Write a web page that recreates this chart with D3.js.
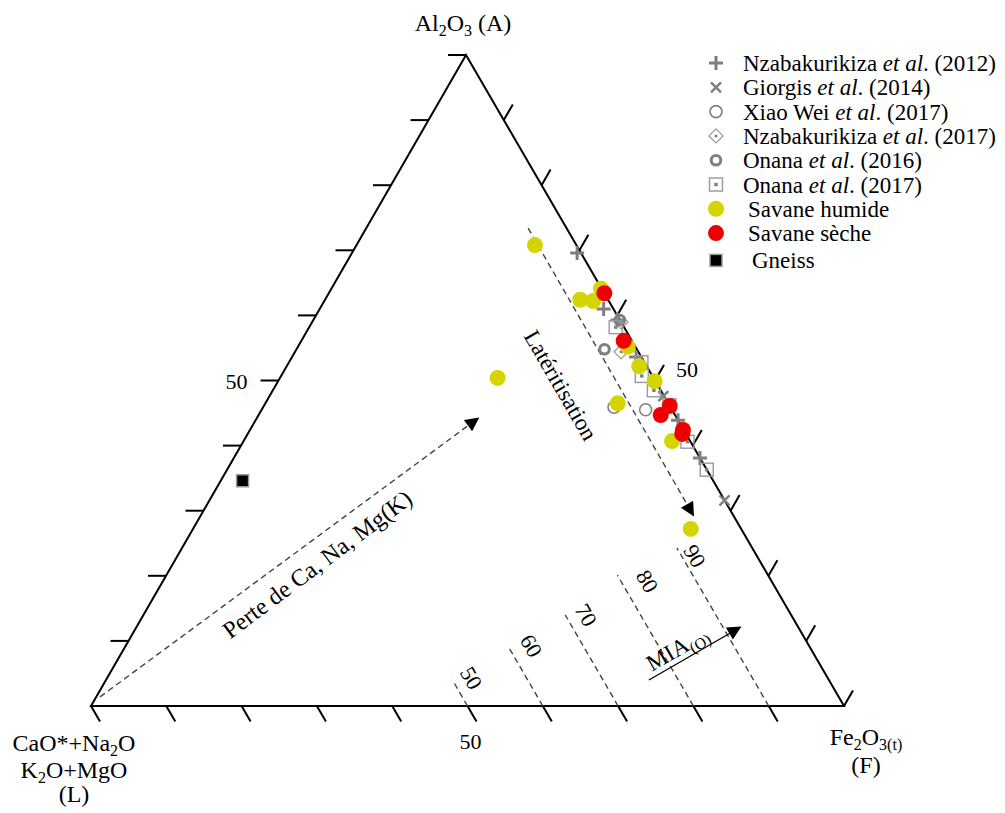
<!DOCTYPE html>
<html><head><meta charset="utf-8">
<script src="https://cdn.jsdelivr.net/npm/d3@7"></script>
<style>
body{margin:0;background:#fff}
svg{display:block}
text{font-family:"Liberation Serif","Times New Roman",serif;fill:#000}
</style>
</head><body>
<svg id="chart" width="1005" height="813"></svg>
<script>
// ---- Data: each point is [A (Al2O3), L (CaO*+Na2O+K2O+MgO), F (Fe2O3t)] in % ----
const nzabakurikiza2012 = [[69.6,0.5,29.9],[61.0,1.3,37.7],[59.3,0.3,40.4],[53.6,0.7,45.7],[43.9,0,56.1],[38.1,0,61.9]];
const giorgis2014 = [[47.6,0.1,52.3],[31.6,0,68.4]];
const xiaoWei2017 = [[45.9,7.5,46.6],[45.5,3.5,51.0]];
const nzabakurikiza2017 = [[54.4,2.3,43.3],[59.0,0,41.0]];
const onana2016 = [[59.3,0,40.7],[54.8,4.3,40.9]];
const onana2017 = [[58.2,1.1,40.7],[52.8,0.4,46.8],[50.7,1.4,47.9],[48.5,0.9,50.6],[46.2,0,53.8],[40.6,0.4,59.0],[36.3,0,63.7]];
const savaneHumide = [[70.8,5.5,23.7],[64.1,0.1,35.8],[62.4,3.7,33.9],[62.2,2.1,35.7],[55.2,1.0,43.8],[52.2,1.0,46.8],[49.9,0.1,50.0],[46.5,6.7,46.8],[40.7,2.4,56.9],[27.2,6.7,66.1],[50.4,20.7,28.9]];
const savaneSeche = [[63.4,0,36.6],[56.1,1.1,42.8],[46.1,0,53.9],[44.7,1.9,53.4],[42.4,0.1,57.5],[41.8,0.5,57.7]];
const gneiss = [[34.6,62.5,2.9]];

const tickValues = d3.range(0, 100, 10);
const tickLabelValue = 50;
const miaValues = [50, 60, 70, 80, 90];
const miaTopA = [4.0, 9.1, 14.0, 20.1, 24.3];

const legendLabels = [
  ["Nzabakurikiza ", "et al", ". (2012)"],
  ["Giorgis ", "et al", ". (2014)"],
  ["Xiao Wei ", "et al", ". (2017)"],
  ["Nzabakurikiza ", "et al", ". (2017)"],
  ["Onana ", "et al", ". (2016)"],
  ["Onana ", "et al", ". (2017)"],
  ["Savane humide", "", ""],
  ["Savane sèche", "", ""],
  ["Gneiss", "", ""]
];

// ---- Geometry ----
const svg = d3.select("#chart");
const base = {xL: 91, xF: 844, yBase: 706, yTop: 55};
const yA = d3.scaleLinear().domain([0, 100]).range([base.yBase, base.yTop]);
const xF = d3.scaleLinear().domain([0, 100]).range([0, base.xF - base.xL]);
const xA = d3.scaleLinear().domain([0, 100]).range([0, 375]);
function proj(p) {
  const s = p[0] + p[1] + p[2];
  const a = p[0] / s * 100, f = p[2] / s * 100;
  return [base.xL + xF(f) + xA(a), yA(a)];
}
const PA = proj([100,0,0]), PL = proj([0,100,0]), PF = proj([0,0,100]);

const g = svg.append("g");

// triangle
g.append("path")
  .attr("d", d3.line()([PA, PL, PF, PA]) + "Z")
  .attr("fill", "none").attr("stroke", "#000").attr("stroke-width", 2).attr("stroke-linejoin", "miter");

// ticks
const tl = 18, c60 = Math.cos(Math.PI/3), s60 = Math.sin(Math.PI/3);
tickValues.forEach(v => {
  const pb = proj([0, 100 - v, v]);
  g.append("line").attr("x1", pb[0]).attr("y1", pb[1]).attr("x2", pb[0] + tl*c60).attr("y2", pb[1] + tl*s60)
    .attr("stroke", "#000").attr("stroke-width", 2);
  const pr = proj([v, 0, 100 - v]);
  g.append("line").attr("x1", pr[0]).attr("y1", pr[1]).attr("x2", pr[0] + tl*c60).attr("y2", pr[1] - tl*s60)
    .attr("stroke", "#000").attr("stroke-width", 2);
  const pl = proj([100 - v, v, 0]);
  g.append("line").attr("x1", pl[0]).attr("y1", pl[1]).attr("x2", pl[0] - tl).attr("y2", pl[1])
    .attr("stroke", "#000").attr("stroke-width", 2);
});

// "50" tick labels
{
  const v = tickLabelValue;
  const pb = proj([0, 100 - v, v]);
  g.append("text").attr("x", pb[0] + 3).attr("y", pb[1] + 43).attr("text-anchor", "middle").attr("font-size", 22).text(v);
  const pr = proj([v, 0, 100 - v]);
  g.append("text").attr("x", pr[0] + 32).attr("y", pr[1] - 4).attr("text-anchor", "middle").attr("font-size", 22).text(v);
  const pl = proj([v, 100 - v, 0]);
  g.append("text").attr("x", pl[0] - 42).attr("y", pl[1] + 8).attr("text-anchor", "middle").attr("font-size", 22).text(v);
}

// arrowhead marker
const defs = svg.append("defs");
defs.append("marker").attr("id", "ah").attr("viewBox", "0 0 10 10").attr("refX", 9).attr("refY", 5)
  .attr("markerWidth", 16).attr("markerHeight", 14).attr("markerUnits", "userSpaceOnUse").attr("orient", "auto")
  .append("path").attr("d", "M0,0 L10,5 L0,10 Z").attr("fill", "#000");

// MIA isolines (constant L, rising from the base)
const miaLabelOffset = [[19,-2],[23,-1],[21,0],[30,6],[18,8]];
miaValues.forEach((m, i) => {
  const p0 = proj([0, 100 - m, m]);
  const p1 = proj([miaTopA[i], 100 - m, m - miaTopA[i]]);
  g.append("line").attr("x1", p0[0]).attr("y1", p0[1]).attr("x2", p1[0]).attr("y2", p1[1])
    .attr("stroke", "#444").attr("stroke-width", 1.4).attr("stroke-dasharray", "6,4");
  const o = miaLabelOffset[i];
  g.append("text").attr("transform", `translate(${p1[0] + o[0]},${p1[1] + o[1]}) rotate(60)`)
    .attr("font-size", 22).attr("text-anchor", "middle").attr("dy", "0.35em").text(m);
});

// Lateritisation arrow (constant L ~ 5)
{
  const p0 = proj([73.4, 5.1, 21.5]), p1 = proj([29.3, 5.3, 65.4]);
  g.append("line").attr("x1", p0[0]).attr("y1", p0[1]).attr("x2", p1[0]).attr("y2", p1[1])
    .attr("stroke", "#444").attr("stroke-width", 1.4).attr("stroke-dasharray", "6,4").attr("marker-end", "url(#ah)");
  g.append("text").attr("transform", "translate(561,385) rotate(60)").attr("text-anchor", "middle")
    .attr("font-size", 23).attr("dy", "0.35em").text("Latéritisation");
}

// Perte arrow
{
  const p0 = proj([1.4, 98.1, 0.5]), p1 = proj([44.2, 26.4, 29.4]);
  g.append("line").attr("x1", p0[0]).attr("y1", p0[1]).attr("x2", p1[0]).attr("y2", p1[1])
    .attr("stroke", "#444").attr("stroke-width", 1.4).attr("stroke-dasharray", "6,4").attr("marker-end", "url(#ah)");
  g.append("text").attr("transform", "translate(317,564) rotate(-36.8)").attr("text-anchor", "middle")
    .attr("font-size", 24).attr("dy", "0.35em").text("Perte de Ca, Na, Mg(K)");
}

// MIA arrow
{
  const p0 = proj([4.0, 23.9, 72.1]), p1 = proj([12.1, 7.7, 80.2]);
  g.append("line").attr("x1", p0[0]).attr("y1", p0[1]).attr("x2", p1[0]).attr("y2", p1[1])
    .attr("stroke", "#000").attr("stroke-width", 1.3).attr("marker-end", "url(#ah)");
  const t = g.append("text").attr("transform", "translate(677,648) rotate(-30)").attr("text-anchor", "middle")
    .attr("font-size", 23).attr("dy", "0.35em");
  t.append("tspan").text("MIA");
  t.append("tspan").attr("font-size", 16).attr("dy", 5).text("(O)");
}

// ---- marker drawers ----
const grey = "#7f7f7f";
function drawPlus(sel, x, y) {
  sel.append("path").attr("d", `M${x-7},${y}H${x+7}M${x},${y-7}V${y+7}`).attr("stroke", grey).attr("stroke-width", 3).attr("fill", "none");
}
function drawX(sel, x, y) {
  const r = 5;
  sel.append("path").attr("d", `M${x-r},${y-r}L${x+r},${y+r}M${x-r},${y+r}L${x+r},${y-r}`).attr("stroke", grey).attr("stroke-width", 2.4).attr("fill", "none");
}
function drawOpenCircle(sel, x, y) {
  sel.append("circle").attr("cx", x).attr("cy", y).attr("r", 6).attr("fill", "none").attr("stroke", grey).attr("stroke-width", 1.6);
}
function drawDiamond(sel, x, y) {
  const r = 7;
  sel.append("path").attr("d", `M${x},${y-r}L${x+r},${y}L${x},${y+r}L${x-r},${y}Z`).attr("fill", "none").attr("stroke", "#999").attr("stroke-width", 1.3);
  sel.append("circle").attr("cx", x).attr("cy", y).attr("r", 1.5).attr("fill", grey);
}
function drawThickCircle(sel, x, y) {
  sel.append("circle").attr("cx", x).attr("cy", y).attr("r", 4.8).attr("fill", "none").attr("stroke", grey).attr("stroke-width", 3);
}
function drawSquareDot(sel, x, y) {
  const r = 6.5;
  sel.append("rect").attr("x", x-r).attr("y", y-r).attr("width", 2*r).attr("height", 2*r).attr("fill", "none").attr("stroke", "#999").attr("stroke-width", 1.4);
  sel.append("rect").attr("x", x-1.7).attr("y", y-1.7).attr("width", 3.4).attr("height", 3.4).attr("fill", grey);
}
function drawYellow(sel, x, y) {
  sel.append("circle").attr("cx", x).attr("cy", y).attr("r", 8).attr("fill", "#d4d400");
}
function drawRed(sel, x, y) {
  sel.append("circle").attr("cx", x).attr("cy", y).attr("r", 8).attr("fill", "#ee0000");
}
function drawGneiss(sel, x, y) {
  const r = 6;
  sel.append("rect").attr("x", x-r).attr("y", y-r).attr("width", 2*r).attr("height", 2*r).attr("fill", "#000").attr("stroke", "#999").attr("stroke-width", 1.5);
}

const series = [
  {data: nzabakurikiza2012, draw: drawPlus},
  {data: giorgis2014, draw: drawX},
  {data: xiaoWei2017, draw: drawOpenCircle},
  {data: nzabakurikiza2017, draw: drawDiamond},
  {data: onana2016, draw: drawThickCircle},
  {data: onana2017, draw: drawSquareDot},
  {data: savaneHumide, draw: drawYellow},
  {data: savaneSeche, draw: drawRed},
  {data: gneiss, draw: drawGneiss}
];

const pts = svg.append("g");
series.forEach(s => s.data.forEach(d => { const p = proj(d); s.draw(pts, p[0], p[1]); }));

// ---- legend ----
const lg = svg.append("g");
const legendY0 = 63, legendDy = 24.3;
series.forEach((s, i) => {
  const y = legendY0 + i * legendDy + (i === 8 ? 3 : 0);
  s.draw(lg, 716, y);
  const tx = i < 6 ? 743 : (i < 8 ? 748 : 752);
  const t = lg.append("text").attr("x", tx).attr("y", y + 8).attr("font-size", 23);
  const L = legendLabels[i];
  t.append("tspan").text(L[0]);
  if (L[1]) t.append("tspan").attr("font-style", "italic").text(L[1]);
  if (L[2]) t.append("tspan").text(L[2]);
});

// ---- vertex labels ----
{
  const fs = 24, sub = 16;
  const t = svg.append("text").attr("x", 463).attr("y", 31).attr("text-anchor", "middle").attr("font-size", fs);
  t.append("tspan").text("Al");
  t.append("tspan").attr("font-size", sub).attr("dy", 5).text("2");
  t.append("tspan").attr("dy", -5).text("O");
  t.append("tspan").attr("font-size", sub).attr("dy", 5).text("3");
  t.append("tspan").attr("dy", -5).text(" (A)");

  const t1 = svg.append("text").attr("x", 74).attr("y", 751).attr("text-anchor", "middle").attr("font-size", fs);
  t1.append("tspan").text("CaO*+Na");
  t1.append("tspan").attr("font-size", sub).attr("dy", 5).text("2");
  t1.append("tspan").attr("dy", -5).text("O");
  const t2 = svg.append("text").attr("x", 74).attr("y", 778).attr("text-anchor", "middle").attr("font-size", fs);
  t2.append("tspan").text("K");
  t2.append("tspan").attr("font-size", sub).attr("dy", 5).text("2");
  t2.append("tspan").attr("dy", -5).text("O+MgO");
  svg.append("text").attr("x", 74).attr("y", 802).attr("text-anchor", "middle").attr("font-size", fs).text("(L)");

  const t3 = svg.append("text").attr("x", 866).attr("y", 745).attr("text-anchor", "middle").attr("font-size", fs);
  t3.append("tspan").text("Fe");
  t3.append("tspan").attr("font-size", sub).attr("dy", 5).text("2");
  t3.append("tspan").attr("dy", -5).text("O");
  t3.append("tspan").attr("font-size", sub).attr("dy", 5).text("3(t)");
  svg.append("text").attr("x", 866).attr("y", 773).attr("text-anchor", "middle").attr("font-size", fs).text("(F)");
}
</script>
</body></html>
